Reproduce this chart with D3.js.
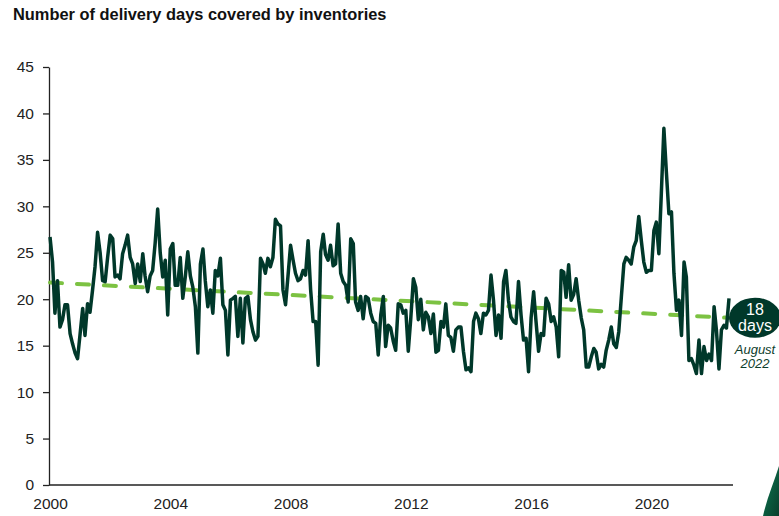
<!DOCTYPE html>
<html>
<head>
<meta charset="utf-8">
<script src="https://cdn.jsdelivr.net/npm/d3@7"></script>
<style>
  body { margin: 0; background: #fff; }
  svg { display: block; font-family: "Liberation Sans", Arial, sans-serif; }
  .title { font-size: 16.4px; font-weight: bold; fill: #111; }
  .axis text { font-size: 15.5px; fill: #222; font-family: "Liberation Sans", Arial, sans-serif; }
  .axis path, .axis line { stroke: #222; stroke-width: 1.3; }
  .days { fill: #fff; font-size: 16px; }
  .when { fill: #0d3d2c; font-size: 13px; font-style: italic; }
</style>
</head>
<body>
<div id="chart-container"><svg></svg></div>
<script>
const chartSize = {width: 779, height: 516};
const margin = {left: 50, right: 50, top: 67, bottom: 31};

// monthly readings, Jan 2000 .. Aug 2022 (one row per year)
const startMonth = new Date(2000, 0, 1);
const deliveryDays = [
  26.7, 24, 18.5, 22, 17, 17.8, 19.4, 19.4, 16.3, 15.2, 14.2, 13.6,
  16.3, 19, 16.1, 19.5, 18.6, 21, 23.5, 27.2, 25, 22, 21.9, 24.5,
  26.9, 26.5, 22.4, 22.6, 22.2, 24.9, 25.8, 26.9, 24.5, 23.8, 21.7, 23.8,
  21.9, 24.9, 22.5, 20.8, 22.5, 23.1, 26, 29.7, 25, 22.4, 24.2, 18.3,
  25.4, 26, 21.5, 21.5, 24.5, 20.1, 22.4, 25.1, 22.5, 21.3, 19.2, 14.2,
  23.8, 25.4, 22, 19.2, 21, 18.5, 23.1, 22.5, 24.4, 19.4, 18.8, 14,
  19.9, 20.1, 20.3, 16, 20.1, 15.3, 20.1, 20.3, 17.8, 16.5, 15.6, 16,
  24.4, 23.8, 22.8, 24.4, 23.5, 24.5, 28.6, 28.1, 27.9, 21, 19.4, 22.5,
  25.8, 24.2, 22.8, 22, 22.2, 23.1, 22.6, 26.3, 21, 17.6, 17.6, 12.9,
  25.1, 27, 24.8, 24.2, 25.8, 23.6, 23.8, 28.1, 22.8, 21.9, 21.5, 19.7,
  26.5, 26, 19.7, 18.8, 20.3, 17.9, 20.3, 20.1, 18.5, 17.6, 17.4, 14,
  18.3, 20.3, 14.9, 17.2, 16.9, 15.5, 14.5, 19.5, 19.4, 18.5, 18.8, 14.4,
  18, 22.2, 21.3, 17.8, 20, 16.7, 18.6, 18.1, 16.3, 18.4, 14.3, 14.5,
  17.6, 17, 19.5, 16.1, 15.9, 14.4, 16.7, 17, 17, 14.4, 12.4, 12.6,
  12.2, 17.6, 18.5, 17.9, 16.3, 18.5, 18.3, 18.8, 22.6, 19.9, 16.1, 18.3,
  15.8, 21.9, 23.1, 19.9, 18.1, 17.6, 17.4, 21.9, 18.3, 15.6, 15.8, 12.2,
  18, 20.8, 17.6, 14.4, 16.3, 16.1, 20.1, 19.5, 17.6, 18.1, 17, 13.8,
  23.1, 22.9, 20.2, 23.7, 19.9, 20.5, 22.2, 19.9, 18, 16.7, 12.7, 12.7,
  13.8, 14.7, 14.3, 12.5, 13, 12.7, 14.5, 15.6, 17, 15.2, 14.8, 16.5,
  20.2, 23.8, 24.5, 24.2, 23.8, 25.6, 26.3, 28.9, 26.3, 24, 22.9, 23.1,
  23.1, 27.4, 28.3, 24.9, 31.4, 38.4, 33.7, 29.2, 29.4, 22.8, 18.8, 19.9,
  16.1, 24, 22.4, 13.4, 13.6, 12.9, 12, 15.6, 12, 14.9, 13.4, 14.1,
  13.4, 19.2, 16.7, 12.5, 16.7, 17.2, 16.9, 20.1
];

// trend line end points
const trendDates = [new Date(2000, 0, 1), new Date(2022, 7, 1)];
const trendValues = [21.8, 18.0];

const yTicks = [0, 5, 10, 15, 20, 25, 30, 35, 40, 45];
const xTickYears = [2000, 2004, 2008, 2012, 2016, 2020];
const titleText = "Number of delivery days covered by inventories";
const badgeLines = ["18", "days"];
const badgeDate = ["August", "2022"];

const width = chartSize.width - margin.left - margin.right;
const height = chartSize.height - margin.top - margin.bottom;

const main = () => {
  const svg = d3.select("#chart-container svg")
    .attr("width", chartSize.width)
    .attr("height", chartSize.height);

  const quotes = deliveryDays.map((v, i) => ({
    date: d3.timeMonth.offset(startMonth, i),
    value: v
  }));
  const trend = trendDates.map((d, i) => ({date: d, value: trendValues[i]}));

  const x = d3.scaleTime()
    .domain([startMonth, _last(quotes).date])
    .range([margin.left, margin.left + width]);

  const y = d3.scaleLinear()
    .domain([0, 45])
    .range([margin.top + height, margin.top]);

  svg.append("text")
    .attr("class", "title")
    .attr("x", 13)
    .attr("y", 20)
    .text(titleText);

  // y axis
  svg.append("g")
    .attr("class", "axis y-axis")
    .attr("transform", `translate(${margin.left - 1},0)`)
    .call(d3.axisLeft(y).tickValues(yTicks).tickSize(6).tickSizeOuter(0).tickPadding(9));

  // x axis, labels only, line runs a little past the last month
  svg.append("g")
    .attr("class", "axis x-axis")
    .attr("transform", `translate(0,${margin.top + height})`)
    .call(d3.axisBottom(x)
      .tickValues(xTickYears.map(yr => new Date(yr, 0, 1)))
      .tickFormat(d3.timeFormat("%Y"))
      .tickSize(0)
      .tickPadding(13))
    .call(g => g.select(".domain").attr("d", `M${x.range()[0] - 1},0H${x.range()[1] + 4}`));

  // trend
  svg.append("path")
    .attr("fill", "none")
    .attr("stroke", "#7cc242")
    .attr("stroke-width", 4)
    .attr("stroke-linecap", "round")
    .attr("stroke-dasharray", "12,15")
    .attr("d", d3.line().x(d => x(d.date)).y(d => y(d.value))(trend));

  const line = d3.line()
    .x(q => x(q.date))
    .y(q => y(q.value));

  svg.append("path")
    .attr("fill", "none")
    .attr("stroke", "#00382a")
    .attr("stroke-width", 3.5)
    .attr("stroke-linejoin", "round")
    .attr("d", line(quotes));

  // badge at the end of the trend
  const last = _last(trend);
  const bx = x(last.date) + 26;
  const by = y(last.value);

  svg.append("ellipse")
    .attr("cx", bx)
    .attr("cy", by)
    .attr("rx", 26)
    .attr("ry", 20)
    .attr("fill", "#00382a");

  svg.append("text")
    .attr("class", "days")
    .attr("text-anchor", "middle")
    .selectAll("tspan")
    .data(badgeLines)
    .join("tspan")
    .attr("x", bx)
    .attr("y", (d, i) => by - 3 + i * 16)
    .text(d => d);

  svg.append("text")
    .attr("class", "when")
    .attr("text-anchor", "middle")
    .selectAll("tspan")
    .data(badgeDate)
    .join("tspan")
    .attr("x", bx)
    .attr("y", (d, i) => by + 36 + i * 14)
    .text(d => d);

  // corner swoosh
  const grad = svg.append("defs").append("linearGradient")
    .attr("id", "swoosh")
    .attr("x1", "0").attr("y1", "0").attr("x2", "1").attr("y2", "1");
  grad.append("stop").attr("offset", "0").attr("stop-color", "#0b7a52");
  grad.append("stop").attr("offset", "1").attr("stop-color", "#0a3f2d");

  svg.append("path")
    .attr("fill", "url(#swoosh)")
    .attr("d", "M779,466 C774,482 767,498 763,516 L779,516 Z");
};

const _last = arr => arr[arr.length - 1];

window.onload = main;
</script>
</body>
</html>
